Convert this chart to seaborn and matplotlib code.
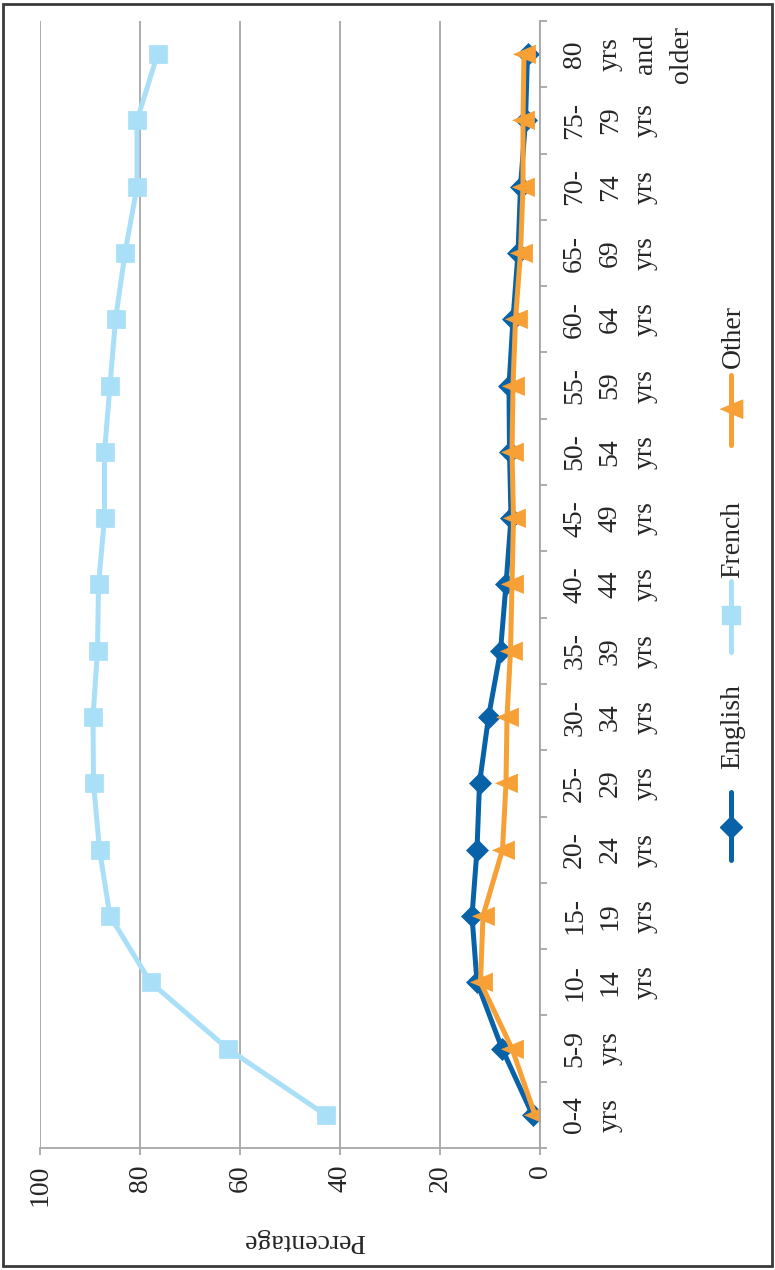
import numpy as np
import matplotlib
matplotlib.use("Agg")
import matplotlib.pyplot as plt
import seaborn as sns
from matplotlib import font_manager
from matplotlib.lines import Line2D
from matplotlib.patches import Rectangle

# Age groups (bottom to top) and share of each mother tongue, in percent
age_groups = ["0-4\nyrs", "5-9\nyrs", "10-\n14\nyrs", "15-\n19\nyrs", "20-\n24\nyrs",
              "25-\n29\nyrs", "30-\n34\nyrs", "35-\n39\nyrs", "40-\n44\nyrs", "45-\n49\nyrs",
              "50-\n54\nyrs", "55-\n59\nyrs", "60-\n64\nyrs", "65-\n69\nyrs", "70-\n74\nyrs",
              "75-\n79\nyrs", "80\nyrs\nand\nolder"]
english = [1.5, 7.6, 12.6, 13.6, 12.6, 12.1, 10.3, 7.9, 6.8, 5.8, 6.1, 6.2, 5.4, 4.4, 3.9, 2.9, 2.5]
french = [42.9, 62.5, 77.9, 86.0, 88.1, 89.3, 89.4, 88.5, 88.3, 87.1, 87.1, 86.0, 84.9, 83.0, 80.6, 80.6, 76.5]
other = [1.0, 5.6, 11.9, 11.4, 7.5, 6.8, 6.6, 5.9, 5.6, 5.3, 5.6, 5.4, 4.9, 3.9, 3.4, 3.4, 3.2]
value_ticks = [0, 20, 40, 60, 80, 100]
series_names = ["English", "French", "Other"]

W, H = 775, 1270
GRID = "#a6a6a6"
colors = {"English": "#0862a8", "French": "#aadff8", "Other": "#f7a035"}
# left-pointing triangle, a little longer than it is tall
tri_left = [(-1.0, 0.0), (1.0, 0.84), (1.0, -0.84)]
markers = {"English": "D", "French": "s", "Other": tri_left}
msizes = {"English": 11, "French": 13, "Other": 16}
LW = 3.6
FS = 20
LSP = 1.55


def pick_serif():
    names = {f.name for f in font_manager.fontManager.ttflist}
    for cand in ("Liberation Serif", "Times New Roman", "Nimbus Roman", "Nimbus Roman No9 L",
                 "FreeSerif", "TeX Gyre Termes", "DejaVu Serif"):
        if cand in names:
            return cand
    for n in sorted(names):
        if "Liberation" in n and "Serif" in n:
            return n
    return "serif"


SERIF = pick_serif()
FAMILY = [SERIF, "DejaVu Serif"]

sns.set_theme(style="white")
plt.rcParams["font.family"] = FAMILY
plt.rcParams["font.size"] = FS

fig = plt.figure(figsize=(W / 100, H / 100), dpi=100)
ax = fig.add_axes([40 / W, (H - 1148) / H, 500 / W, 1127 / H])

positions = np.arange(len(age_groups))
data = {"English": english, "French": french, "Other": other}
for name in series_names:
    sns.lineplot(x=data[name], y=positions, sort=False, estimator=None, ax=ax,
                 color=colors[name], linewidth=LW, marker=markers[name],
                 markersize=msizes[name], markeredgecolor=colors[name],
                 markeredgewidth=0.5)

ax.set_xlim(100, 0)
ax.set_ylim(-0.5, len(age_groups) - 0.5)

# value axis (drawn along the bottom, read right to left)
ax.set_xticks(value_ticks)
ax.set_xticklabels([str(v) for v in value_ticks], rotation=90, fontsize=FS, family=FAMILY)
ax.tick_params(axis="x", bottom=True, length=5, width=1.3, color=GRID, pad=7)
ax.grid(axis="x", color=GRID, linewidth=1.3)
ax.grid(axis="y", visible=False)
ax.set_axisbelow(True)

# category axis on the right
ax.yaxis.tick_right()
ax.set_yticks(positions)
ax.set_yticklabels(age_groups, fontsize=FS, family=FAMILY)
ax.set_yticks(np.arange(-0.5, len(age_groups), 1), minor=True)
ax.tick_params(axis="y", which="major", length=0, pad=16, right=True, left=False)
ax.tick_params(axis="y", which="minor", length=5, width=1.3, color=GRID, right=True, left=False)
for lab in ax.get_yticklabels():
    lab.set_rotation(90)
    lab.set_va("center")
    lab.set_ha("left")
    lab.set_multialignment("center")
    lab.set_linespacing(LSP)

for side in ("left", "top"):
    ax.spines[side].set_visible(False)
for side in ("right", "bottom"):
    ax.spines[side].set_color(GRID)
    ax.spines[side].set_linewidth(1.3)

ax.set_xlabel("")
ax.set_ylabel("")
fig.text(304 / W, 1 - 1240 / H, "Percentage", rotation=180, ha="center", va="center",
         fontsize=FS, family=FAMILY)


def fx(x):
    return x / W


def fy(y):
    return 1 - y / H


# legend, stacked vertically along the right edge
legend_layout = {"English": (727, 792, 860, 827),
                 "French": (539, 581, 652, 615),
                 "Other": (336, 375, 445, 409)}
LX = 731
for name in series_names:
    ty, y0, y1, ym = legend_layout[name]
    fig.add_artist(Line2D([fx(LX), fx(LX)], [fy(y0), fy(y1)], transform=fig.transFigure,
                          color=colors[name], linewidth=LW))
    fig.add_artist(Line2D([fx(LX)], [fy(ym)], transform=fig.transFigure, linestyle="none",
                          marker=markers[name], markersize=msizes[name],
                          color=colors[name], markeredgecolor=colors[name]))
    fig.text(fx(733), fy(ty), name, rotation=90, ha="center", va="center", fontsize=FS,
             family=FAMILY)

fig.add_artist(Rectangle((3 / W, 4 / H), 769 / W, 1262 / H, transform=fig.transFigure,
                         fill=False, edgecolor="#3a3a3a", linewidth=2))

fig.savefig("out.png", dpi=100)
